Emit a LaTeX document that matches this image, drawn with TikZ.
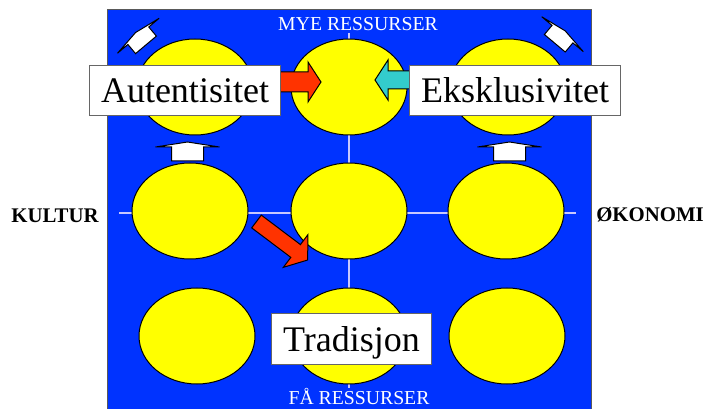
\documentclass[tikz,border=0pt]{standalone}
\usepackage{fontspec}
\setmainfont{Liberation Serif}
\usetikzlibrary{shapes.geometric}

\definecolor{bgblue}{RGB}{0,51,255}
\definecolor{blobyellow}{RGB}{255,255,0}
\definecolor{pushred}{RGB}{255,51,0}
\definecolor{pushcyan}{RGB}{51,204,204}
\definecolor{gridlilac}{RGB}{200,200,255}

\tikzset{every picture/.style={line width=0.75pt}}
\tikzset{
  blob/.style={ellipse, draw=black, fill=blobyellow, minimum width=87pt, minimum height=72pt, inner sep=0pt},
  tag/.style={draw=gray!80!black, fill=white, font=\fontsize{27}{30}\selectfont, inner xsep=8.5pt, inner ysep=0pt, minimum height=37.5pt, text height=18pt, text depth=0pt},
  axis/.style={text=white, font=\fontsize{14.8}{16}\selectfont, inner sep=0pt, anchor=base},
  side/.style={font=\fontsize{15.6}{18}\selectfont\bfseries, inner sep=0pt, anchor=base},
  capshape/.style={draw=black, fill=white, line join=miter},
  push/.style={draw=black, line join=miter},
  gridline/.style={draw=gridlilac, line width=1.1pt}
}

\begin{document}
\begin{tikzpicture}[x=0.75pt,y=0.75pt,yscale=-1,xscale=1]

\useasboundingbox (0,0) rectangle (706,409);
\clip (0,0) rectangle (706,409);

%Shape: Rectangle
\draw [draw=gray!70!black, fill=bgblue] (107,10) rectangle (591,430) ;

%Straight Lines
\coordinate (gtop) at (349,33);
\coordinate (gbot) at (349,388);
\coordinate (gwest) at (119,213);
\coordinate (geast) at (576,213);
\draw [gridline] (gtop) -- (gbot) ;
\draw [gridline] (gwest) -- (geast) ;

%Shape: Ellipse
\node [blob] (tl) at (195,87) {};
\node [blob] (tm) at (349,87) {};
\node [blob] (tr) at (508,87) {};
\node [blob] (ml) at (190,211) {};
\node [blob] (mm) at (349,211) {};
\node [blob] (mr) at (506,211) {};
\node [blob] (bl) at (197,336) {};
\node [blob] (bm) at (349,336) {};
\node [blob] (br) at (507,336) {};

%Shape: Up Arrow
\draw [capshape, shift={(135.6,32.5)}, rotate=-40, scale=0.85] (-32,5) -- (0,0) -- (32,5) -- (16,5) -- (16,19) -- (-16,19) -- (-16,5) -- cycle ;
\draw [capshape, shift={(565.2,30.9)}, rotate=40, scale=0.85] (-32,5) -- (0,0) -- (32,5) -- (16,5) -- (16,19) -- (-16,19) -- (-16,5) -- cycle ;
\draw [capshape, shift={(187.5,142)}] (-32,5) -- (0,0) -- (32,5) -- (16,5) -- (16,19) -- (-16,19) -- (-16,5) -- cycle ;
\draw [capshape, shift={(509.5,142)}] (-32,5) -- (0,0) -- (32,5) -- (16,5) -- (16,19) -- (-16,19) -- (-16,5) -- cycle ;

%Shape: Right Arrow
\draw [push, fill=pushred, shift={(280,82)}] (0,-10) -- (28,-10) -- (28,-20) -- (41,0) -- (28,20) -- (28,10) -- (0,10) -- cycle ;
\draw [push, fill=pushcyan, shift={(415,80)}, rotate=180] (0,-9) -- (27,-9) -- (27,-20) -- (40,0) -- (27,20) -- (27,9) -- (0,9) -- cycle ;
\draw [push, fill=pushred, shift={(256.5,221.5)}, rotate=37] (0,-8) -- (49,-8) -- (49,-20.5) -- (64,0) -- (49,20.5) -- (49,8) -- (0,8) -- cycle ;

% Text Node
\node [tag] (auth) at (185,91) {Autentisitet};
% Text Node
\node [tag] (excl) at (515,91) {Eksklusivitet};
% Text Node
\node [tag] (trad) at (351.5,339) {Tradisjon};

% Text Node
\node [axis] (many) at (358,31) {MYE RESSURSER};
% Text Node
\node [axis] (few) at (359,404) {FÅ RESSURSER};
% Text Node
\node [side] (culture) at (55,222.5) {KULTUR};
% Text Node
\node [side] (economy) at (650,221.5) {ØKONOMI};

\end{tikzpicture}
\end{document}
